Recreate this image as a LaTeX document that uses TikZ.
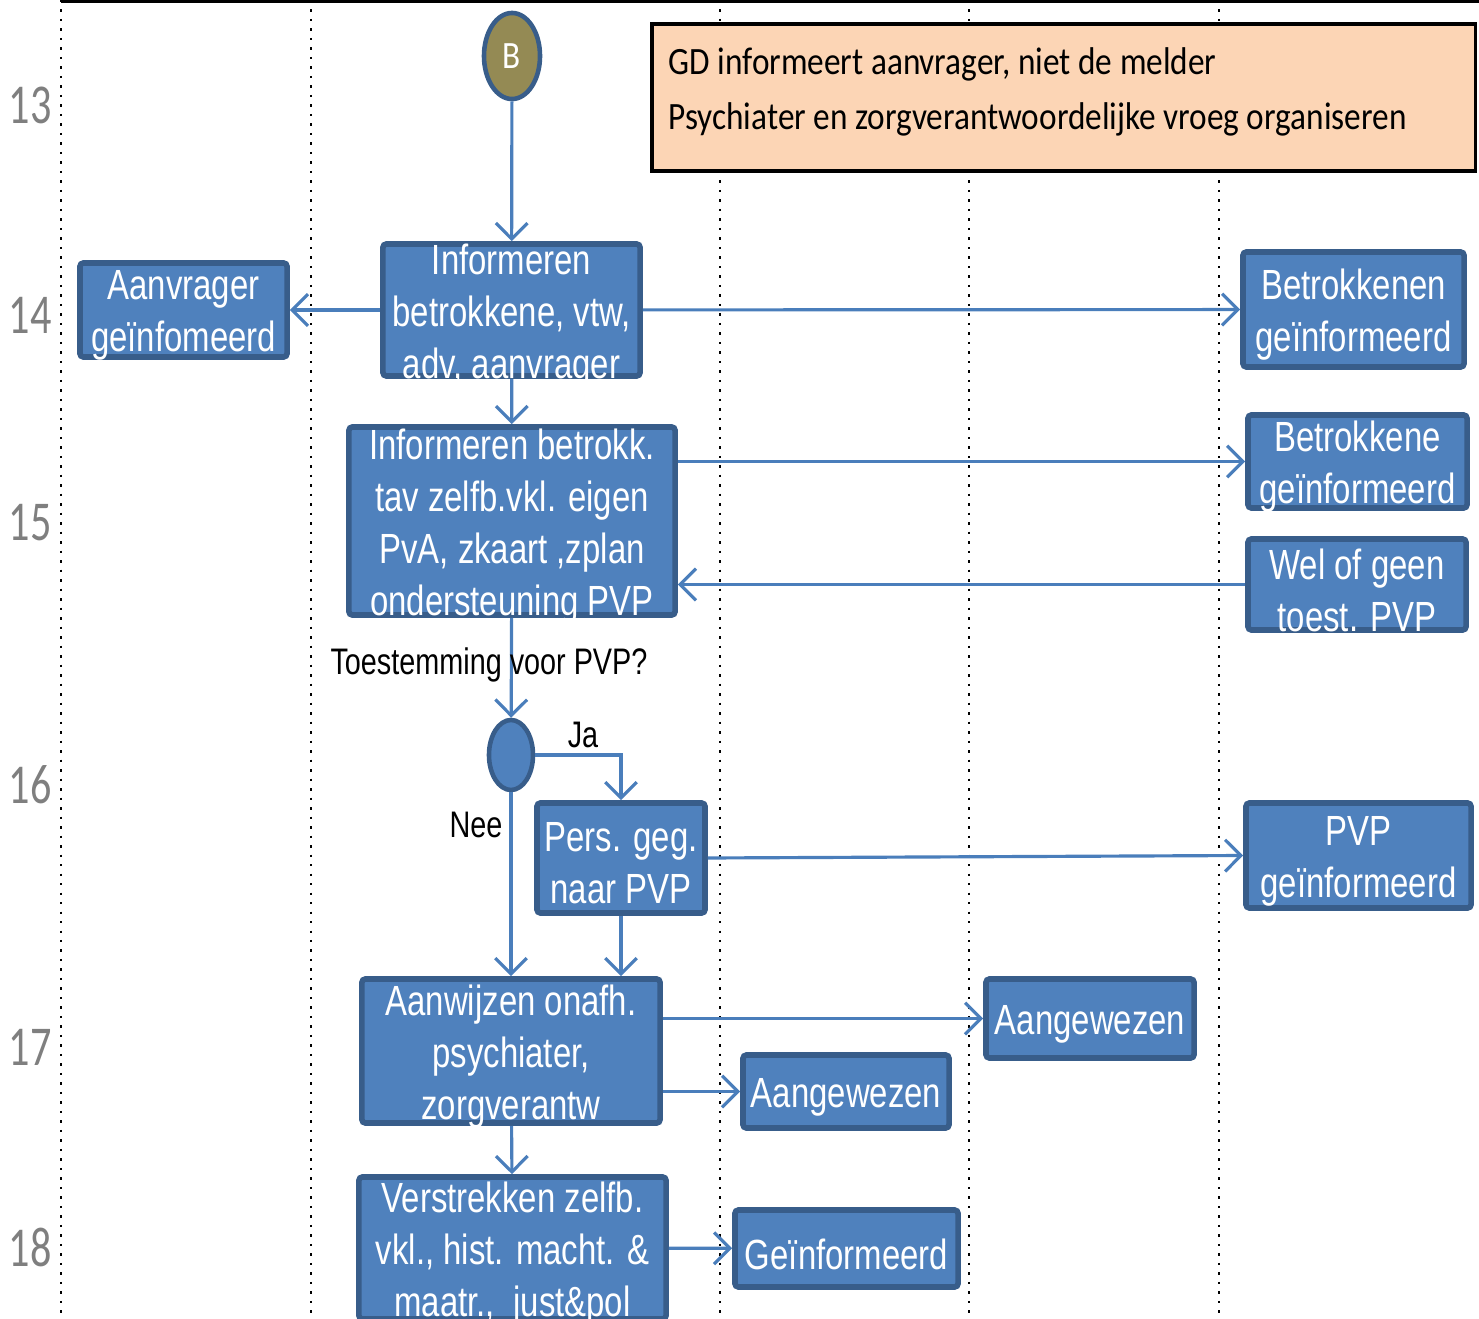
\documentclass[tikz,border=0pt]{standalone}
\usepackage{fontspec}
\setmainfont{Liberation Sans}
\newfontfamily\narrowfont{Liberation Sans}[FakeStretch=0.78]
\newfontfamily\notefont{Carlito}[FakeStretch=0.86]
\newfontfamily\rowfont{Carlito}[FakeStretch=0.75]
\usetikzlibrary{shapes.geometric,arrows.meta}
\definecolor{boxblue}{HTML}{4F81BD}
\definecolor{boxline}{HTML}{385D8A}
\definecolor{flowblue}{HTML}{4A7EBB}
\definecolor{olive}{HTML}{948A54}
\definecolor{peach}{HTML}{FCD5B5}
\definecolor{rowgray}{HTML}{7F7F7F}
\tikzset{
	proc/.style     = {draw=boxline, fill=boxblue, line width=1.6pt,
		rounded corners=1pt, inner sep=0pt},
	txt/.style      = {text=white, align=center, inner sep=0pt, yshift=-0.055cm,
		font=\narrowfont\fontsize{12}{14.8}\selectfont},
	start/.style    = {draw=boxline, fill=olive, ellipse, line width=1.3pt,
		minimum width=0.56cm, minimum height=0.86cm, inner sep=0pt,
		text=white, font=\notefont\fontsize{11}{13}\selectfont},
	choice/.style   = {draw=boxline, fill=boxblue, ellipse, line width=1.3pt,
		minimum width=0.44cm, minimum height=0.70cm, inner sep=0pt},
	lbl/.style      = {font=\narrowfont\fontsize{10.5}{12}\selectfont, inner sep=0pt},
	rownum/.style   = {text=rowgray, font=\rowfont\fontsize{16}{18}\selectfont},
	lane/.style     = {dotted, line width=0.7pt},
	flow/.style     = {draw=flowblue, line width=0.9pt,
		-{Straight Barb[length=4.5pt,width=9pt]}} % connector
}

\begin{document}
\begin{tikzpicture}[x=0.01cm, y=-0.01cm]
	\useasboundingbox (0,0) rectangle (1479,1319);

	% lanes and row numbers
	\foreach \x in {61,311,720,969,1219}
		\draw[lane] (\x,0) -- (\x,1319);
	\draw[line width=1pt] (61,1) -- (1479,1);
	\foreach \n/\y in {13/105,14/315,15/523,16/785,17/1047,18/1247}
		\node[rownum] (r\n) at (30,\y) {\n};

	% remark
	\node[draw, line width=1pt, fill=peach, minimum width=8.23cm,
		minimum height=1.47cm] (note) at (1063.5,97.5) {};
	\node[anchor=west, align=left, inner sep=0pt,
		font=\notefont\fontsize{11}{15.6}\selectfont] (notetext) at (668,91.5)
		{GD informeert aanvrager, niet de melder\\
		 Psychiater en zorgverantwoordelijke vroeg organiseren};

	% steps
	\node[start] (b) at (512,56) {B};
	\node[proc, minimum width=2.57cm, minimum height=1.32cm,
		label={[txt]center:{Informeren\\betrokkene, vtw,\\adv, aanvrager}}] (inf1) at (511.5,310) {};
	\node[proc, minimum width=2.07cm, minimum height=0.94cm,
		label={[txt]center:{Aanvrager\\geïnfomeerd}}] (aanv) at (183.5,310) {};
	\node[proc, minimum width=2.21cm, minimum height=1.15cm,
		label={[txt]center:{Betrokkenen\\geïnformeerd}}] (betrn) at (1353.5,309.5) {};
	\node[proc, minimum width=3.26cm, minimum height=1.88cm,
		label={[txt]center:{Informeren betrokk.\\tav zelfb.vkl. eigen\\PvA, zkaart ,zplan\\ondersteuning PVP}}] (inf2) at (512,521) {};
	\node[proc, minimum width=2.19cm, minimum height=0.93cm,
		label={[txt]center:{Betrokkene\\geïnformeerd}}] (betr) at (1357.5,461.5) {};
	\node[proc, minimum width=2.18cm, minimum height=0.91cm,
		label={[txt]center:{Wel of geen\\toest. PVP}}] (wel) at (1357,584.5) {};
	\node[choice] (dec) at (511,755) {};
	\node[proc, minimum width=1.68cm, minimum height=1.10cm,
		label={[txt]center:{Pers. geg.\\naar PVP}}] (pers) at (621,858) {};
	\node[proc, minimum width=2.25cm, minimum height=1.05cm,
		label={[txt]center:{PVP\\geïnformeerd}}] (pvp) at (1358.5,855.5) {};
	\node[proc, minimum width=2.98cm, minimum height=1.44cm,
		label={[txt]center:{Aanwijzen onafh.\\psychiater,\\zorgverantw}}] (aanw) at (511,1051) {};
	\node[proc, minimum width=2.08cm, minimum height=0.79cm,
		label={[txt]center:{Aangewezen}}] (aang1) at (1090,1018.5) {};
	\node[proc, minimum width=2.06cm, minimum height=0.73cm,
		label={[txt]center:{Aangewezen}}] (aang2) at (846,1091.5) {};
	\node[proc, minimum width=3.07cm, minimum height=1.42cm,
		label={[txt]center:{Verstrekken zelfb.\\vkl., hist. macht. \&\\maatr.,~ just\&pol}}] (verst) at (512.5,1248) {};
	\node[proc, minimum width=2.23cm, minimum height=0.77cm,
		label={[txt]center:{Geïnformeerd}}] (gein) at (846.5,1248.5) {};

	% connectors
	\draw[flow] (b) -- (inf1);
	\draw[flow] (inf1) -- (aanv);
	\draw[flow] (inf1) -- (betrn);
	\draw[flow] (inf1) -- (inf2);
	\draw[flow] (inf2.east |- betr) -- (betr.west);
	\draw[flow] (wel.west) -- (wel.west -| inf2.east);
	\draw[flow] (inf2) -- (dec);
	\draw[flow] (dec.east) -| (pers.north);
	\draw[flow] (dec.south) -- (dec.south |- aanw.north);
	\draw[flow] (pers.south) -- (pers.south |- aanw.north);
	\draw[flow] (pers.east) -- (pvp.west);
	\draw[flow] (aanw.east |- aang1) -- (aang1.west);
	\draw[flow] (aanw.east |- aang2) -- (aang2.west);
	\draw[flow] (aanw) -- (verst);
	\draw[flow] (verst) -- (gein);

	\node[lbl] (vraag) at (489,665) {Toestemming voor PVP?};
	\node[lbl] (ja) at (583,735) {Ja};
	\node[lbl] (nee) at (476,825) {Nee};
\end{tikzpicture}
\end{document}
